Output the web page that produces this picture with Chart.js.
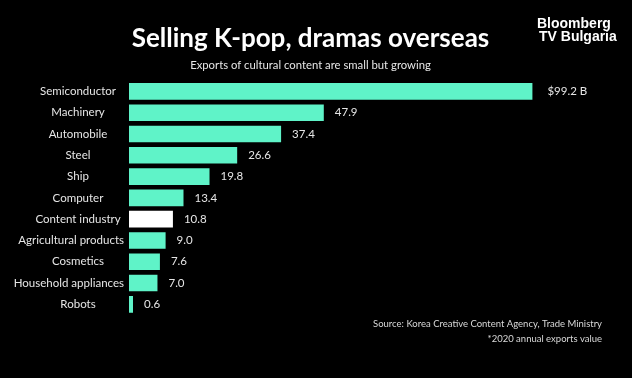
<!DOCTYPE html>
<html>
<head>
<meta charset="utf-8">
<script src="https://cdn.jsdelivr.net/npm/chart.js@4"></script>
<style>
  html, body { margin: 0; padding: 0; background: #000; }
  #wrap { width: 632px; height: 378px; position: relative; }
</style>
</head>
<body>
<div id="wrap"><canvas id="exports-chart"></canvas></div>
<script>
// Chart data
const categories = ['Semiconductor', 'Machinery', 'Automobile', 'Steel', 'Ship', 'Computer',
  'Content industry', 'Agricultural products', 'Cosmetics', 'Household appliances', 'Robots'];
const exportValues = [99.2, 47.9, 37.4, 26.6, 19.8, 13.4, 10.8, 9.0, 7.6, 7.0, 0.6];
const valueLabels = ['$99.2 B', '47.9', '37.4', '26.6', '19.8', '13.4', '10.8', '9.0', '7.6', '7.0', '0.6'];
const highlight = 'Content industry';

const MINT = '#5ff3c8';
const FONT = 'Lato, "Open Sans", sans-serif';

// Category labels: centred in the gutter, but never closer than 5px to the bars
const categoryLabels = {
  id: 'categoryLabels',
  afterDraw(chart) {
    const { ctx, scales: { y }, chartArea } = chart;
    ctx.save();
    ctx.font = '11.5px ' + FONT;
    ctx.fillStyle = '#e6e6e6';
    ctx.textAlign = 'center';
    ctx.textBaseline = 'middle';
    categories.forEach((label, i) => {
      const w = ctx.measureText(label).width;
      const x = Math.min(78, chartArea.left - 5 - w / 2);
      ctx.fillText(label, x, y.getPixelForTick(i));
    });
    ctx.restore();
  }
};

// Value labels at the end of each bar
const valueLabelsPlugin = {
  id: 'valueLabels',
  afterDatasetsDraw(chart) {
    const { ctx } = chart;
    const meta = chart.getDatasetMeta(0);
    ctx.save();
    ctx.font = '11.5px ' + FONT;
    ctx.fillStyle = '#e6e6e6';
    ctx.textAlign = 'left';
    ctx.textBaseline = 'middle';
    meta.data.forEach((bar, i) => {
      const pad = i === 0 ? 15 : 11;
      ctx.fillText(valueLabels[i], bar.x + pad, bar.y);
    });
    ctx.restore();
  }
};

// Source note and channel logo
const extras = {
  id: 'extras',
  afterDraw(chart) {
    const { ctx } = chart;
    ctx.save();
    ctx.fillStyle = '#d8d8d8';
    ctx.textAlign = 'right';
    ctx.textBaseline = 'middle';
    ctx.font = '9.5px ' + FONT;
    ctx.fillText('Source: Korea Creative Content Agency, Trade Ministry', 602, 324);
    ctx.fillText('*2020 annual exports value', 602, 339);

    ctx.fillStyle = '#ffffff';
    ctx.textAlign = 'left';
    ctx.font = 'bold 14px "Liberation Sans", Arial, sans-serif';
    ctx.fillText('Bloomberg', 537, 24);
    ctx.fillText('TV Bulgaria', 539, 37);
    ctx.restore();
  }
};

const ctx = document.getElementById('exports-chart').getContext('2d');
new Chart(ctx, {
  type: 'bar',
  data: {
    labels: categories,
    datasets: [{
      data: exportValues,
      backgroundColor: categories.map(c => c === highlight ? '#ffffff' : MINT),
      borderWidth: 0,
      barPercentage: 0.78,
      categoryPercentage: 1.0,
      minBarLength: 4
    }]
  },
  options: {
    indexAxis: 'y',
    responsive: true,
    maintainAspectRatio: false,
    animation: false,
    layout: {
      padding: { left: 4, right: 15, top: 0, bottom: 63 }
    },
    plugins: {
      legend: { display: false },
      tooltip: { enabled: false },
      title: {
        display: true,
        text: 'Selling K-pop, dramas overseas',
        color: '#ffffff',
        font: { family: FONT, size: 26, weight: 'bold' },
        padding: { top: 23, bottom: 1 }
      },
      subtitle: {
        display: true,
        text: 'Exports of cultural content are small but growing',
        color: '#e6e6e6',
        font: { family: FONT, size: 11.3 },
        padding: { top: 3, bottom: 9 }
      }
    },
    scales: {
      x: {
        display: false,
        min: 0,
        max: 120
      },
      y: {
        grid: { display: false, drawTicks: false },
        border: { display: false },
        ticks: { display: false },
        afterFit(scale) { scale.width = 125; }
      }
    }
  },
  plugins: [categoryLabels, valueLabelsPlugin, extras]
});
</script>
</body>
</html>
